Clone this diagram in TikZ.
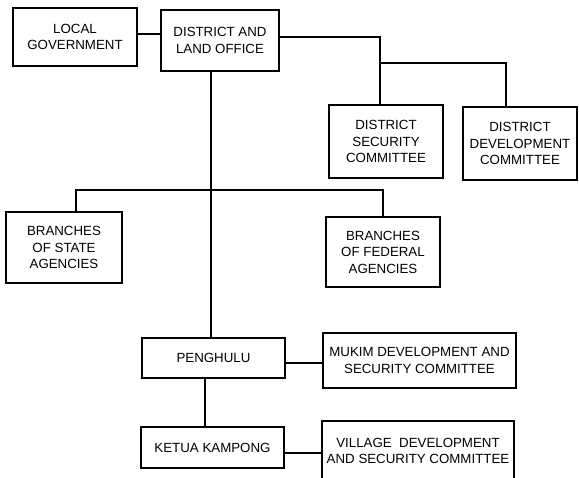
\documentclass[tikz,border=0pt]{standalone}
\usepackage{fontspec}
\setmainfont{Liberation Sans}
\usetikzlibrary{calc}
\begin{document}
\begin{tikzpicture}[x=1pt,y=-1pt,
  box/.style={draw, line width=1.5pt, align=center, inner sep=0pt,
    font=\fontsize{13.3}{16.5}\selectfont},
  link/.style={line width=1.5pt}]
\clip (0,0) rectangle (579,478);
\fill[white] (0,0) rectangle (579,478);

% boxes
\node[box, minimum width=124pt, minimum height=58pt] (lg)    at (75,37)      {LOCAL\\GOVERNMENT};
\node[box, minimum width=118pt, minimum height=61pt] (dlo)   at (220,40.5)   {DISTRICT AND\\LAND OFFICE};
\node[box, minimum width=114pt, minimum height=73pt] (dsc)   at (386,141.5)  {DISTRICT\\SECURITY\\COMMITTEE};
\node[box, minimum width=114pt, minimum height=73pt] (ddc)   at (520,143.5)  {DISTRICT\\DEVELOPMENT\\COMMITTEE};
\node[box, minimum width=116pt, minimum height=71pt] (state) at (64,247.5)   {BRANCHES\\OF STATE\\AGENCIES};
\node[box, minimum width=114pt, minimum height=70pt] (fed)   at (383,252)    {BRANCHES\\OF FEDERAL\\AGENCIES};
\node[box, minimum width=143pt, minimum height=40pt] (pen)   at (213.5,358)  {PENGHULU};
\node[box, minimum width=193pt, minimum height=55pt] (muk)   at (419.5,360.5){MUKIM DEVELOPMENT AND\\SECURITY COMMITTEE};
\node[box, minimum width=143pt, minimum height=41pt] (ket)   at (212.5,447.5){KETUA KAMPONG};
\node[box, minimum width=192pt, minimum height=60pt] (vil)   at (418,451)    {VILLAGE\ \ DEVELOPMENT\\AND SECURITY COMMITTEE};

% junction points
\coordinate (rj) at (380,63);
\coordinate (rk) at (506,63);
\coordinate (bl) at (76,190);
\coordinate (br) at (383,190);
\coordinate (mv) at (211,0);
\coordinate (pk) at (205,0);

% connectors
\draw[link] ($(lg.east)+(0,-3)$) -- ($(lg.east -| dlo.west)+(0,-3)$);
\draw[link] ($(dlo.east)+(0,-3.5)$) -| (rj) -- (rj |- dsc.north);
\draw[link] (rj) -- (rk) -- (rk |- ddc.north);
\draw[link] (dlo.south -| mv) -- (pen.north -| mv);
\draw[link] (state.north -| bl) -- (bl) -- (br) -- (fed.north);
\draw[link] ($(pen.east)+(0,5)$) -- ($(pen.east -| muk.west)+(0,5)$);
\draw[link] (pen.south -| pk) -- (ket.north -| pk);
\draw[link] ($(ket.east)+(0,5.5)$) -- ($(ket.east -| vil.west)+(0,5.5)$);
\end{tikzpicture}
\end{document}
